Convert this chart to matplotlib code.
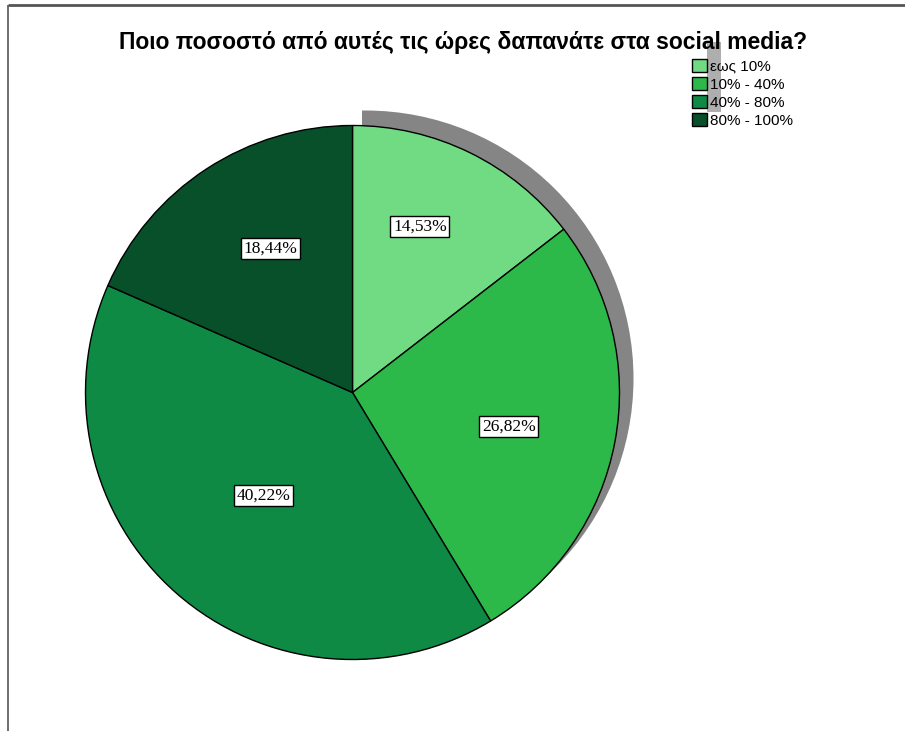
#!/usr/bin/env python3
"""
Pie chart: share of daily hours spent on social media (survey answers).
"""
import numpy as np
import matplotlib
matplotlib.use("Agg")
import matplotlib.pyplot as plt
from matplotlib.patches import Circle, Rectangle

TITLE = "Ποιο ποσοστό από αυτές τις ώρες δαπανάτε στα social media?"
CATEGORIES = ["εως 10%", "10% - 40%", "40% - 80%", "80% - 100%"]
SHARES = [14.53, 26.82, 40.22, 18.44]
COLORS = ["#71DB83", "#2DB84A", "#0F8A45", "#07502A"]

# label placement per slice: shift from the mid angle (deg), radius fraction
LABEL_SHIFT = [4.0, -1.8, 0.5, -3.6]
LABEL_RADIUS = [0.67, 0.60, 0.51, 0.62]

W, H = 905, 731
CX, CY, R = 352.5, 731 - 392.5, 267

fig = plt.figure(figsize=(W / 100, H / 100), dpi=100)
ax = fig.add_axes([0, 0, 1, 1])

# offset grey disc behind the pie, only on its upper-right side
shadow = Circle((CX + 13, CY + 14), R + 1, facecolor="#858585", edgecolor="none", zorder=0)
ax.add_patch(shadow)
shadow.set_clip_path(Rectangle((CX + 9, 0), W, H, transform=ax.transData))

wedges, _ = ax.pie(
    SHARES,
    colors=COLORS,
    startangle=90,
    counterclock=False,
    center=(CX, CY),
    radius=R,
    frame=True,
    wedgeprops=dict(edgecolor="black", linewidth=1.0),
)

for w, share, shift, frac in zip(wedges, SHARES, LABEL_SHIFT, LABEL_RADIUS):
    mid = np.deg2rad((w.theta1 + w.theta2) / 2 + shift)
    x = CX + frac * R * np.cos(mid)
    y = CY + frac * R * np.sin(mid)
    ax.text(x, y, f"{share:.2f}%".replace(".", ","), ha="center", va="center",
            family="Liberation Serif", fontsize=12.5, color="black", zorder=5,
            bbox=dict(boxstyle="square,pad=0.15", facecolor="white",
                      edgecolor="black", linewidth=1.0))

ax.text(463, H - 42, TITLE, ha="center", va="center", family="Liberation Sans",
        fontsize=16.5, fontweight="bold", color="black")

# grey strip behind the legend
ax.add_patch(Rectangle((707, H - 112), 14, 70, facecolor="#9a9a9a",
                       edgecolor="none", alpha=0.8, zorder=1))

leg = ax.legend(wedges, CATEGORIES, loc="upper left",
                bbox_to_anchor=(692 / W, 1 - 59 / H), bbox_transform=fig.transFigure,
                frameon=False, handlelength=0.95, handleheight=0.95,
                handletextpad=0.2, labelspacing=0.2, borderpad=0, borderaxespad=0,
                prop=dict(family="Liberation Sans", size=11))

# window border at the top and left
ax.plot([8, W], [H - 5, H - 5], color="#555555", linewidth=2, solid_capstyle="butt")
ax.plot([8, 8], [0, H - 5], color="#555555", linewidth=1.2, solid_capstyle="butt")

ax.set_xlim(0, W)
ax.set_ylim(0, H)
ax.set_axis_off()

fig.savefig("out.png", dpi=100, facecolor="white")
